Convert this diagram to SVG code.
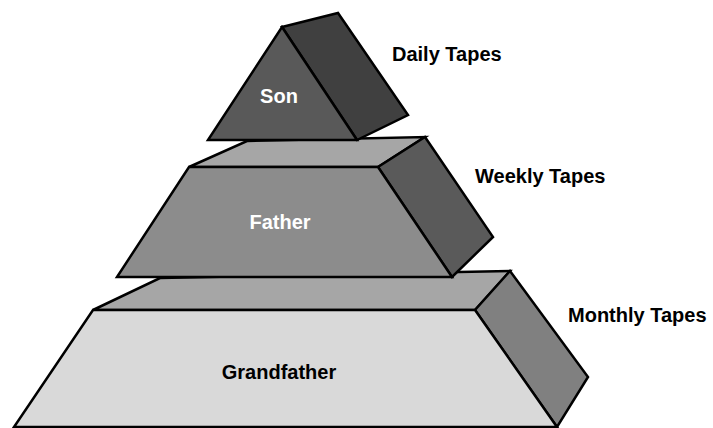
<svg xmlns="http://www.w3.org/2000/svg" width="713" height="428" viewBox="0 0 713 428">
  <style>
    .edge { stroke: #000; stroke-width: 2.5; stroke-linejoin: miter; }
    .label { font-family: "Liberation Sans", Arial, sans-serif; font-weight: bold; font-size: 20px; }
    .inner { text-anchor: middle; }
    .light { fill: #fff; }
    .dark { fill: #000; }
  </style>
  <rect width="713" height="428" fill="#fff"/>

  <!-- Bottom tier: monthly tapes -->
  <g id="grandfather">
    <polygon class="edge" fill="#a6a6a6" points="160,278 510,271 475,310 93,310"/>
    <polygon class="edge" fill="#808080" points="475,310 510,271 588,377 557,427"/>
    <polygon class="edge" fill="#d9d9d9" points="93,310 475,310 557,427 14,427"/>
    <text class="label inner dark" x="279" y="379">Grandfather</text>
  </g>

  <!-- Middle tier: weekly tapes -->
  <g id="father">
    <polygon class="edge" fill="#a6a6a6" points="247,141 425,137 378,167 189,167"/>
    <polygon class="edge" fill="#5a5a5a" points="378,167 425,137 493,237 452,277"/>
    <polygon class="edge" fill="#8c8c8c" points="189,167 378,167 452,277 117,277"/>
    <text class="label inner light" x="280" y="229">Father</text>
  </g>

  <!-- Top tier: daily tapes -->
  <g id="son">
    <polygon class="edge" fill="#404040" points="282,27 338,13 408,115 357,140"/>
    <polygon class="edge" fill="#595959" points="282,27 357,140 208,140"/>
    <text class="label inner light" x="279" y="103">Son</text>
  </g>

  <!-- Tier captions -->
  <g id="captions">
    <text class="label dark" x="392" y="61">Daily Tapes</text>
    <text class="label dark" x="475" y="183">Weekly Tapes</text>
    <text class="label dark" x="568" y="322">Monthly Tapes</text>
  </g>
</svg>
